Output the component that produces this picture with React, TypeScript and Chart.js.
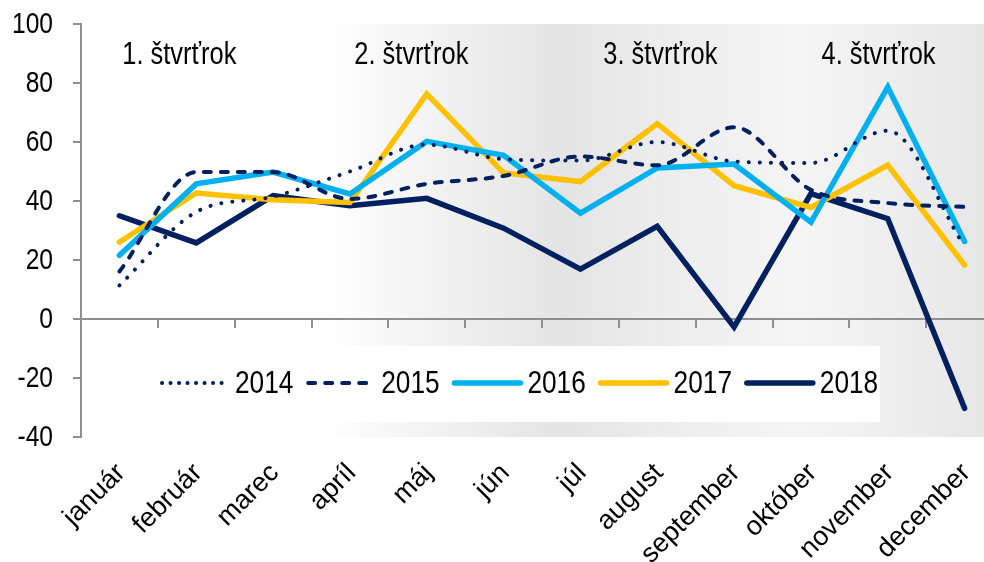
import React, { useEffect, useRef } from "react";
import { Chart, registerables } from "chart.js";

Chart.register(...registerables);

const months = ["január", "február", "marec", "apríl", "máj", "jún", "júl", "august", "september", "október", "november", "december"];
const series2014 = [11.4, 36.3, 41.5, 50.0, 59.1, 54.2, 53.7, 60.0, 53.4, 52.9, 63.8, 24.6];
const series2015 = [16.1, 49.8, 49.8, 40.7, 45.8, 48.5, 55.1, 52.1, 65.0, 43.8, 39.3, 38.0];
const series2016 = [21.6, 45.8, 49.8, 42.4, 60.2, 55.5, 35.9, 51.2, 52.5, 32.8, 78.6, 26.3];
const series2017 = [26.1, 42.7, 40.4, 39.5, 76.3, 49.5, 46.6, 66.2, 45.2, 37.8, 52.2, 18.3];
const series2018 = [35.0, 25.8, 41.8, 38.4, 40.9, 30.8, 16.9, 31.4, -2.7, 42.5, 34.0, -30.3];
const quarterLabels = ["1. štvrťrok", "2. štvrťrok", "3. štvrťrok", "4. štvrťrok"];
const quarterAnchors = [0.78, 3.8, 7.04, 9.88];
const quarterY = 89.5;
const yTicks = [100, 80, 60, 40, 20, 0, -20, -40];

const NAVY = "#002060";
const CYAN = "#00b0f0";
const GOLD = "#ffc000";
const FONT = "'Liberation Sans', Arial, sans-serif";
const NARROW = 0.82;

function drawText(ctx: any, text: string, x: number, y: number, align: string, baseline: string, size: number, squeeze: number, rot = 0) {
  ctx.save();
  ctx.translate(x, y);
  ctx.scale(squeeze, 1);
  if (rot) ctx.rotate(rot);
  ctx.font = `${size}px ${FONT}`;
  ctx.fillStyle = "#000000";
  ctx.textAlign = align;
  ctx.textBaseline = baseline;
  ctx.fillText(text, 0, 0);
  ctx.restore();
}

const decorPlugin = {
  id: "decor",
  beforeDatasetsDraw(chart: any) {
    const ctx = chart.ctx;
    const area = chart.chartArea;
    const xs = chart.scales.x;
    const ys = chart.scales.y;
    ctx.save();
    // background gradient panel
    const gx0 = 323;
    const grad = ctx.createLinearGradient(gx0, 0, 984, 0);
    grad.addColorStop(0, "#ffffff");
    grad.addColorStop(0.36, "#e4e4e4");
    grad.addColorStop(0.5, "#ececec");
    grad.addColorStop(0.72, "#f5f5f5");
    grad.addColorStop(1, "#e7e7e7");
    ctx.fillStyle = grad;
    ctx.fillRect(gx0, area.top, area.right - gx0, area.bottom - area.top);

    // zero axis line + tick marks
    const y0 = ys.getPixelForValue(0);
    ctx.strokeStyle = "#8f8f8f";
    ctx.lineWidth = 2;
    ctx.beginPath();
    ctx.moveTo(area.left - 8, y0);
    ctx.lineTo(area.right, y0);
    ctx.stroke();
    const n = months.length;
    const step = xs.getPixelForValue(1) - xs.getPixelForValue(0);
    for (let i = 0; i <= n; i++) {
      const px = Math.round(xs.getPixelForValue(i) - step / 2);
      ctx.beginPath();
      ctx.moveTo(px, y0);
      ctx.lineTo(px, y0 + 9);
      ctx.stroke();
    }

    // y tick labels
    yTicks.forEach((v) => {
      drawText(ctx, String(v), area.left - 28, ys.getPixelForValue(v) + 1, "right", "middle", 30, NARROW);
    });

    // x tick labels (rotated)
    months.forEach((m, i) => {
      const px = xs.getPixelForValue(i);
      drawText(ctx, m, px + 7, area.bottom + 37, "right", "alphabetic", 27, 1, -Math.PI / 4);
    });

    // legend box
    const ly = 383;
    ctx.fillStyle = "#ffffff";
    ctx.fillRect(152, 346, 880 - 152, 76);
    chart.data.datasets.forEach((ds: any, i: number) => {
      const x0 = 160 + i * 146.2;
      ctx.save();
      ctx.strokeStyle = ds.borderColor;
      ctx.lineWidth = ds.borderWidth;
      ctx.lineCap = "round";
      ctx.setLineDash(ds.legendDash || []);
      ctx.beginPath();
      ctx.moveTo(x0 + 2, ly);
      ctx.lineTo(x0 + 68, ly);
      ctx.stroke();
      ctx.restore();
      drawText(ctx, ds.label, x0 + 75, ly + 1, "left", "middle", 32, NARROW);
    });

    // quarter labels
    quarterLabels.forEach((t, i) => {
      const a = quarterAnchors[i];
      const base = Math.floor(a);
      const px = xs.getPixelForValue(base) + (a - base) * step;
      drawText(ctx, t, px, ys.getPixelForValue(quarterY), "center", "middle", 31, NARROW);
    });
    ctx.restore();
  },
};

export default function App() {
  const ref = useRef<HTMLCanvasElement | null>(null);
  useEffect(() => {
    if (!ref.current) return;
    const chart = new Chart(ref.current, {
      type: "line",
      data: {
        labels: months,
        datasets: [
          { label: "2014", data: series2014, borderColor: NAVY, borderWidth: 4, borderDash: [0.1, 11], borderCapStyle: "round", cubicInterpolationMode: "monotone", tension: 0.4, pointRadius: 0, legendDash: [0.1, 8.4] } as any,
          { label: "2015", data: series2015, borderColor: NAVY, borderWidth: 4, borderDash: [7, 10], borderCapStyle: "round", cubicInterpolationMode: "monotone", tension: 0.4, pointRadius: 0, legendDash: [7, 10] } as any,
          { label: "2016", data: series2016, borderColor: CYAN, borderWidth: 5.5, borderCapStyle: "round", borderJoinStyle: "miter", tension: 0, pointRadius: 0 },
          { label: "2017", data: series2017, borderColor: GOLD, borderWidth: 5.5, borderCapStyle: "round", borderJoinStyle: "miter", tension: 0, pointRadius: 0 },
          { label: "2018", data: series2018, borderColor: NAVY, borderWidth: 5.5, borderCapStyle: "round", borderJoinStyle: "miter", tension: 0, pointRadius: 0 },
        ],
      },
      options: {
        responsive: false,
        animation: false,
        layout: { padding: { left: 0, right: 9, top: 24, bottom: 0 } },
        plugins: { legend: { display: false }, tooltip: { enabled: false } },
        scales: {
          x: {
            offset: true,
            grid: { display: false },
            border: { display: false },
            ticks: { display: false, autoSkip: false },
            afterFit: (s: any) => { s.height = 125; },
          },
          y: {
            min: -40,
            max: 100,
            afterBuildTicks: (s: any) => { s.ticks = yTicks.map((v) => ({ value: v })); },
            grid: { drawOnChartArea: false, color: "#8f8f8f", lineWidth: 2, tickLength: 8 },
            border: { display: true, color: "#8f8f8f", width: 2 },
            ticks: { display: false },
            afterFit: (s: any) => { s.width = 81; },
          },
        },
      },
      plugins: [decorPlugin],
    } as any);
    return () => chart.destroy();
  }, []);
  return (
    <div style={{ position: "absolute", left: 0, top: 0, width: 984, height: 562, overflow: "hidden", background: "#ffffff" }}>
      <canvas ref={ref} width={1012} height={562} style={{ display: "block" }} />
    </div>
  );
}
